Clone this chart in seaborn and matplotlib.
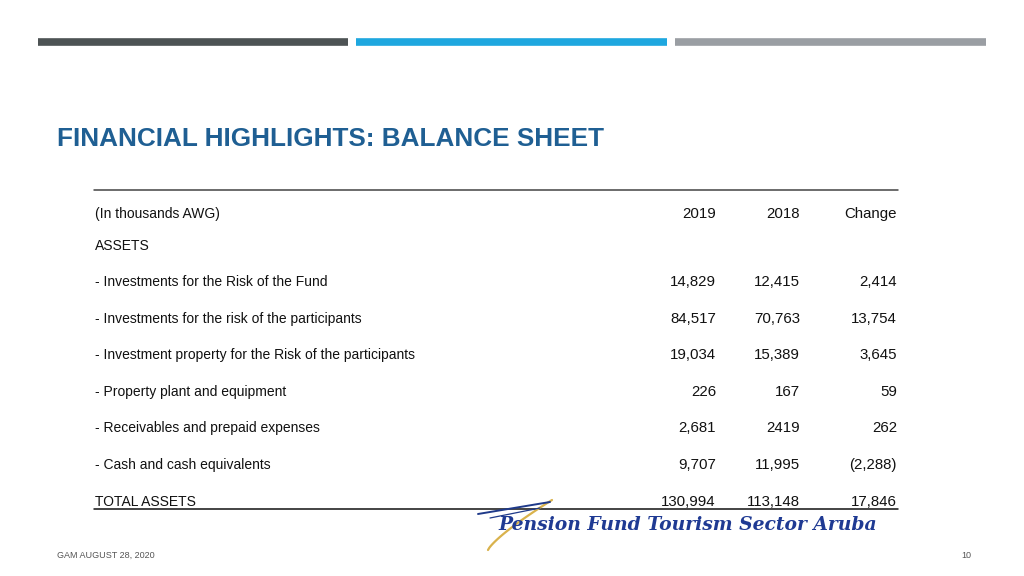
import matplotlib
matplotlib.use("Agg")
import numpy
import seaborn as sea
from matplotlib import pyplot

sea.set_theme(style="white")
pyplot.rcParams["font.family"] = ["Liberation Sans", "DejaVu Sans"]

# table contents
title = "FINANCIAL HIGHLIGHTS: BALANCE SHEET"
unit_label = "(In thousands AWG)"
columns = ["2019", "2018", "Change"]
section = "ASSETS"
items = [
    "- Investments for the Risk of the Fund",
    "- Investments for the risk of the participants",
    "- Investment property for the Risk of the participants",
    "- Property plant and equipment",
    "- Receivables and prepaid expenses",
    "- Cash and cash equivalents",
]
values_2019 = ["14,829", "84,517", "19,034", "226", "2,681", "9,707"]
values_2018 = ["12,415", "70,763", "15,389", "167", "2419", "11,995"]
changes = ["2,414", "13,754", "3,645", "59", "262", "(2,288)"]
total_label = "TOTAL ASSETS"
totals = ["130,994", "113,148", "17,846"]
footer_left = "GAM AUGUST 28, 2020"
footer_right = "10"
logo_text = "Pension Fund Tourism Sector Aruba"

figure = pyplot.figure(figsize=(10.24, 5.76), dpi=100)
ax = figure.add_axes([0, 0, 1, 1])
ax.set_xlim(0, 1024)
ax.set_ylim(576, 0)
ax.axis("off")

# decorative bars at the top
for x0, x1, c in [(38, 348, "#4d5354"), (356, 667, "#1ea7df"), (675, 986, "#9a9ea3")]:
    ax.plot([x0, x1], [42, 42], color=c, lw=5.5, solid_capstyle="butt")

ax.text(57, 139, title, color="#1f5f93", fontsize=18.8, fontweight="bold",
        va="center", ha="left")

text_kw = dict(fontsize=10, color="#111111", va="center")
num_kw = dict(fontsize=10.8, color="#111111", va="center", ha="right")
col_x = [716, 800, 897]

ax.plot([94, 898], [190, 190], color="#444444", lw=1.1)
ax.text(95, 214, unit_label, ha="left", **text_kw)
for x, c in zip(col_x, columns):
    ax.text(x, 214, c, **num_kw)
ax.text(95, 246, section, ha="left", **text_kw)

row_y = 282 + 36.6 * numpy.arange(len(items))
for y, name, a, b, c in zip(row_y, items, values_2019, values_2018, changes):
    ax.text(95, y, name, ha="left", **text_kw)
    for x, v in zip(col_x, [a, b, c]):
        ax.text(x, y, v, **num_kw)

total_y = row_y[-1] + 36.6
ax.text(95, total_y, total_label, ha="left", **text_kw)
for x, v in zip(col_x, totals):
    ax.text(x, total_y, v, **num_kw)
ax.plot([94, 898], [509, 509], color="#111111", lw=1.1)

# logo swoosh
t = numpy.linspace(0, 1, 50)
ax.plot(488 + 64 * t, 550 - 50 * t ** 0.8, color="#d9b24c", lw=1.6)
ax.plot(478 + 72 * t, 514 - 12 * t, color="#1f3a8a", lw=1.4)
ax.plot(490 + 50 * t, 518 - 10 * t, color="#1f3a8a", lw=0.9)
ax.text(498, 525, logo_text, family="DejaVu Serif", style="italic",
        fontweight="bold", fontsize=13.5, color="#1f3a93", ha="left", va="center")

ax.text(57, 555, footer_left, fontsize=6.5, color="#555555", ha="left", va="center")
ax.text(971, 555, footer_right, fontsize=6.5, color="#555555", ha="right", va="center")

figure.savefig("out.png", dpi=100, facecolor="white")
